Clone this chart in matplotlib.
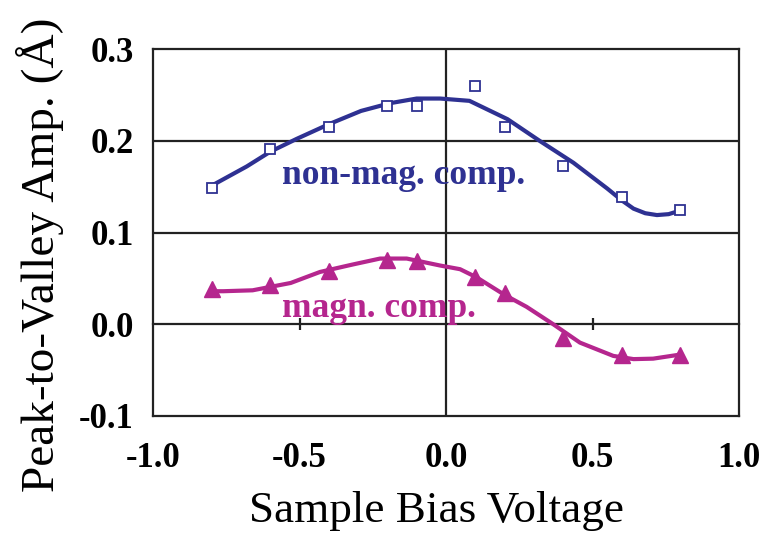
import matplotlib
matplotlib.use("Agg")
import matplotlib.pyplot as plt

# ---- data ----
bias = [-0.80, -0.60, -0.40, -0.20, -0.10, 0.10, 0.20, 0.40, 0.60, 0.80]
nonmag = [0.148, 0.191, 0.215, 0.238, 0.238, 0.260, 0.215, 0.172, 0.139, 0.124]
magn = [0.038, 0.043, 0.058, 0.070, 0.069, 0.052, 0.034, -0.0145, -0.033, -0.033]

# trend curves
nonmag_fit_x = [-0.80, -0.68, -0.60, -0.51, -0.40, -0.29, -0.19, -0.10, -0.02,
                0.08, 0.21, 0.32, 0.435, 0.55, 0.60, 0.64, 0.68, 0.72, 0.76, 0.80]
nonmag_fit_y = [0.151, 0.172, 0.188, 0.202, 0.218, 0.2325, 0.241, 0.246, 0.246,
                0.2435, 0.2235, 0.1998, 0.176, 0.148, 0.135, 0.126, 0.121, 0.119,
                0.120, 0.124]
magn_fit_x = [-0.80, -0.76, -0.66, -0.53, -0.43, -0.32, -0.225, -0.134, -0.02,
              0.048, 0.105, 0.20, 0.275, 0.366, 0.457, 0.571, 0.64, 0.707, 0.80]
magn_fit_y = [0.036, 0.036, 0.037, 0.045, 0.057, 0.065, 0.0716, 0.0716, 0.064,
              0.060, 0.051, 0.032, 0.019, 0.0, -0.020, -0.0345, -0.038, -0.0375, -0.033]

xticks = [-1.0, -0.5, 0.0, 0.5, 1.0]
yticks = [-0.1, 0.0, 0.1, 0.2, 0.3]
xlabel = "Sample Bias Voltage"
ylabel = "Peak-to-Valley Amp. (Å)"
label_nonmag = "non-mag. comp."
label_magn = "magn. comp."

BLUE = "#2E3192"
MAG = "#B5268E"
LINE = "#222222"
SERIF = ["Liberation Serif", "DejaVu Serif"]

fig = plt.figure(figsize=(7.65, 5.33), dpi=100)
ax = fig.add_axes([153 / 765, 1 - 416 / 533, 586 / 765, 367 / 533])

ax.set_xlim(-1.0, 1.0)
ax.set_ylim(-0.1, 0.3)
ax.set_xticks(xticks)
ax.set_yticks(yticks)
ax.set_xticklabels([f"{v:.1f}" for v in xticks])
ax.set_yticklabels([f"{v:.1f}" for v in yticks])
for lab in ax.get_xticklabels() + ax.get_yticklabels():
    lab.set_fontfamily(SERIF)
    lab.set_fontweight("bold")
    lab.set_fontsize(25)
ax.tick_params(axis="both", length=0)
ax.tick_params(axis="x", pad=19)
ax.tick_params(axis="y", pad=14)

for s in ax.spines.values():
    s.set_linewidth(1.6)
    s.set_color(LINE)

# horizontal gridlines at 0.1 and 0.2, vertical line at x = 0
for yv in [0.1, 0.2]:
    ax.axhline(yv, color=LINE, lw=1.6, zorder=1)
ax.axvline(0.0, color=LINE, lw=1.6, zorder=1)

# axis crossing at y = 0 with small ticks at +-0.5
sx = ax.secondary_xaxis(0.25)
sx.set_xticks([-0.5, 0.5])
sx.set_xticklabels(["", ""])
sx.tick_params(direction="inout", length=9, width=1.6, color=LINE)
sx.spines["bottom"].set_linewidth(1.6)
sx.spines["bottom"].set_color(LINE)

# curves
ax.plot(nonmag_fit_x, nonmag_fit_y, color=BLUE, lw=3.0, solid_capstyle="round",
        solid_joinstyle="round", zorder=3)
ax.plot(magn_fit_x, magn_fit_y, color=MAG, lw=3.0, solid_capstyle="round",
        solid_joinstyle="round", zorder=3)
# markers
ax.plot(bias, nonmag, ls="none", marker="s", ms=7.5, mfc="white", mec=BLUE,
        mew=1.3, zorder=4)
ax.plot(bias, magn, ls="none", marker="^", ms=12, color=MAG, zorder=4)

ax.text(-0.56, 0.1526, label_nonmag, color=BLUE, fontsize=25.5, fontweight="bold",
        family=SERIF, ha="left", va="baseline", zorder=5)
ax.text(-0.56, 0.0076, label_magn, color=MAG, fontsize=25.5, fontweight="bold",
        family=SERIF, ha="left", va="baseline", zorder=5)

ax.set_xlabel(xlabel, fontsize=32.5, family=SERIF)
ax.set_ylabel(ylabel, fontsize=34, family=SERIF)
ax.xaxis.set_label_coords(0.483, -0.205)
ax.yaxis.set_label_coords(-0.152, 0.44)

fig.savefig("out.png", dpi=100, facecolor="white")
